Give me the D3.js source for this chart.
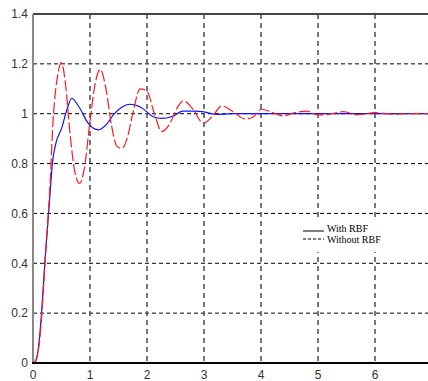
<!DOCTYPE html>
<html>
<head>
<meta charset="utf-8">
<script src="https://cdn.jsdelivr.net/npm/d3@7"></script>
<style>
  body { margin: 0; background: #fff; }
  svg { display: block; }
</style>
</head>
<body>
<div id="graph"></div>
<script>
// step responses
const tWith = [0, 0.05, 0.1, 0.15, 0.21, 0.29, 0.34, 0.4, 0.5, 0.6, 0.68, 0.8, 0.97, 1.15, 1.3, 1.41, 1.55, 1.7, 1.9, 2.11, 2.26, 2.45, 2.63, 2.85, 3.0, 3.22, 3.5, 4.0, 4.5, 5.0, 5.5, 6.0, 6.5, 7.0];
const withRBF = [0, 0.01, 0.07, 0.2, 0.41, 0.65, 0.8, 0.88, 0.94, 1.02, 1.062, 1.03, 0.961, 0.935, 0.96, 0.995, 1.025, 1.038, 1.025, 0.988, 0.981, 0.99, 1.01, 1.01, 1.007, 0.997, 1.0, 1.0, 1.0, 1.0, 1.0, 1.0, 1.0, 1.0];

const tWithout = [0, 0.05, 0.1, 0.15, 0.21, 0.29, 0.36, 0.43, 0.5, 0.57, 0.65, 0.74, 0.82, 0.9, 1.0, 1.09, 1.18, 1.28, 1.38, 1.47, 1.56, 1.65, 1.75, 1.88, 2.0, 2.13, 2.26, 2.4, 2.52, 2.64, 2.8, 2.99, 3.15, 3.31, 3.5, 3.72, 3.85, 4.01, 4.2, 4.39, 4.6, 4.8, 5.0, 5.2, 5.44, 5.7, 6.0, 6.3, 6.6, 7.0];
const withoutRBF = [0, 0.01, 0.06, 0.18, 0.4, 0.68, 1.0, 1.15, 1.205, 1.12, 0.92, 0.76, 0.72, 0.78, 0.97, 1.12, 1.178, 1.1, 0.95, 0.87, 0.861, 0.9, 1.0, 1.1, 1.09, 1.0, 0.928, 0.96, 1.02, 1.052, 1.02, 0.962, 0.99, 1.031, 1.01, 0.979, 0.985, 1.018, 1.005, 0.991, 1.005, 1.01, 0.995, 0.998, 1.008, 0.996, 1.004, 0.998, 1.0, 1.0];

const xTicks = [0, 1, 2, 3, 4, 5, 6, 7];
const yTicks = [0, 0.2, 0.4, 0.6, 0.8, 1, 1.2, 1.4];
const legendLabels = ["With RBF", "Without RBF"];

const W = 428, H = 381;
const margin = { top: 14, right: -4, bottom: 18, left: 33 };

const x = d3.scaleLinear().domain([0, 7]).range([margin.left, W - margin.right]);
const y = d3.scaleLinear().domain([0, 1.4]).range([H - margin.bottom, margin.top]);

const svg = d3.select("#graph").append("svg")
    .attr("width", W)
    .attr("height", H);

// grid
svg.append("g").selectAll("line")
    .data(yTicks.filter(d => d > 0 && d < 1.4))
    .enter().append("line")
    .attr("x1", x(0)).attr("x2", W)
    .attr("y1", d => y(d)).attr("y2", d => y(d))
    .attr("stroke", "#000").attr("stroke-width", 1)
    .attr("stroke-dasharray", "4,3");

svg.append("g").selectAll("line")
    .data(xTicks.filter(d => d > 0 && d < 7))
    .enter().append("line")
    .attr("x1", d => x(d)).attr("x2", d => x(d))
    .attr("y1", y(1.4)).attr("y2", y(0))
    .attr("stroke", "#555").attr("stroke-width", 1.6)
    .attr("stroke-dasharray", "5,4");

// curves
svg.append("clipPath").attr("id", "clip")
    .append("rect")
    .attr("x", x(0)).attr("y", y(1.4))
    .attr("width", x(7) - x(0)).attr("height", y(0) - y(1.4));

const line = d3.line().curve(d3.curveMonotoneX);

svg.append("path")
    .attr("clip-path", "url(#clip)")
    .attr("d", line(tWith.map((t, i) => [x(t), y(withRBF[i])])))
    .attr("fill", "none").attr("stroke", "#1010ff").attr("stroke-width", 1.2);

svg.append("path")
    .attr("clip-path", "url(#clip)")
    .attr("d", line(tWithout.map((t, i) => [x(t), y(withoutRBF[i])])))
    .attr("fill", "none").attr("stroke", "#ff1a1a").attr("stroke-width", 1.2)
    .attr("stroke-dasharray", "11,3");

// frame
svg.append("line")
    .attr("x1", x(0)).attr("x2", W)
    .attr("y1", y(1.4)).attr("y2", y(1.4))
    .attr("stroke", "#444").attr("stroke-width", 2);
svg.append("line")
    .attr("x1", x(0)).attr("x2", x(0))
    .attr("y1", y(1.4)).attr("y2", y(0))
    .attr("stroke", "#888").attr("stroke-width", 2);
svg.append("line")
    .attr("x1", x(0) - 1).attr("x2", W)
    .attr("y1", y(0)).attr("y2", y(0))
    .attr("stroke", "#000").attr("stroke-width", 2);

// tick labels
svg.append("g").selectAll("text")
    .data(yTicks)
    .enter().append("text")
    .attr("x", x(0) - 5)
    .attr("y", d => y(d))
    .attr("dy", "0.36em")
    .attr("text-anchor", "end")
    .attr("font-family", "Liberation Sans, Arial, sans-serif")
    .attr("font-size", 12)
    .attr("fill", "#333")
    .text(d => d3.format("")(d));

svg.append("g").selectAll("text")
    .data(xTicks)
    .enter().append("text")
    .attr("x", d => x(d))
    .attr("y", H - 2)
    .attr("text-anchor", "middle")
    .attr("font-family", "Liberation Sans, Arial, sans-serif")
    .attr("font-size", 12)
    .attr("fill", "#333")
    .text(d => d);

// legend
const lg = svg.append("g").attr("transform", "translate(297,217)");
lg.append("rect").attr("width", 92).attr("height", 35).attr("fill", "#fff");
legendLabels.forEach((name, i) => {
    const yy = 14.5 + i * 11;
    lg.append("line")
        .attr("x1", 6).attr("x2", 27)
        .attr("y1", i ? yy - 3.5 : yy - 0.5).attr("y2", i ? yy - 3.5 : yy - 0.5)
        .attr("stroke", "#000").attr("stroke-width", 1)
        .attr("stroke-dasharray", i ? "3,2" : null);
    lg.append("text")
        .attr("x", 30).attr("y", yy)
        .attr("font-family", "Liberation Serif, Times New Roman, serif")
        .attr("font-size", 10)
        .attr("fill", "#000")
        .text(name);
});
</script>
</body>
</html>
